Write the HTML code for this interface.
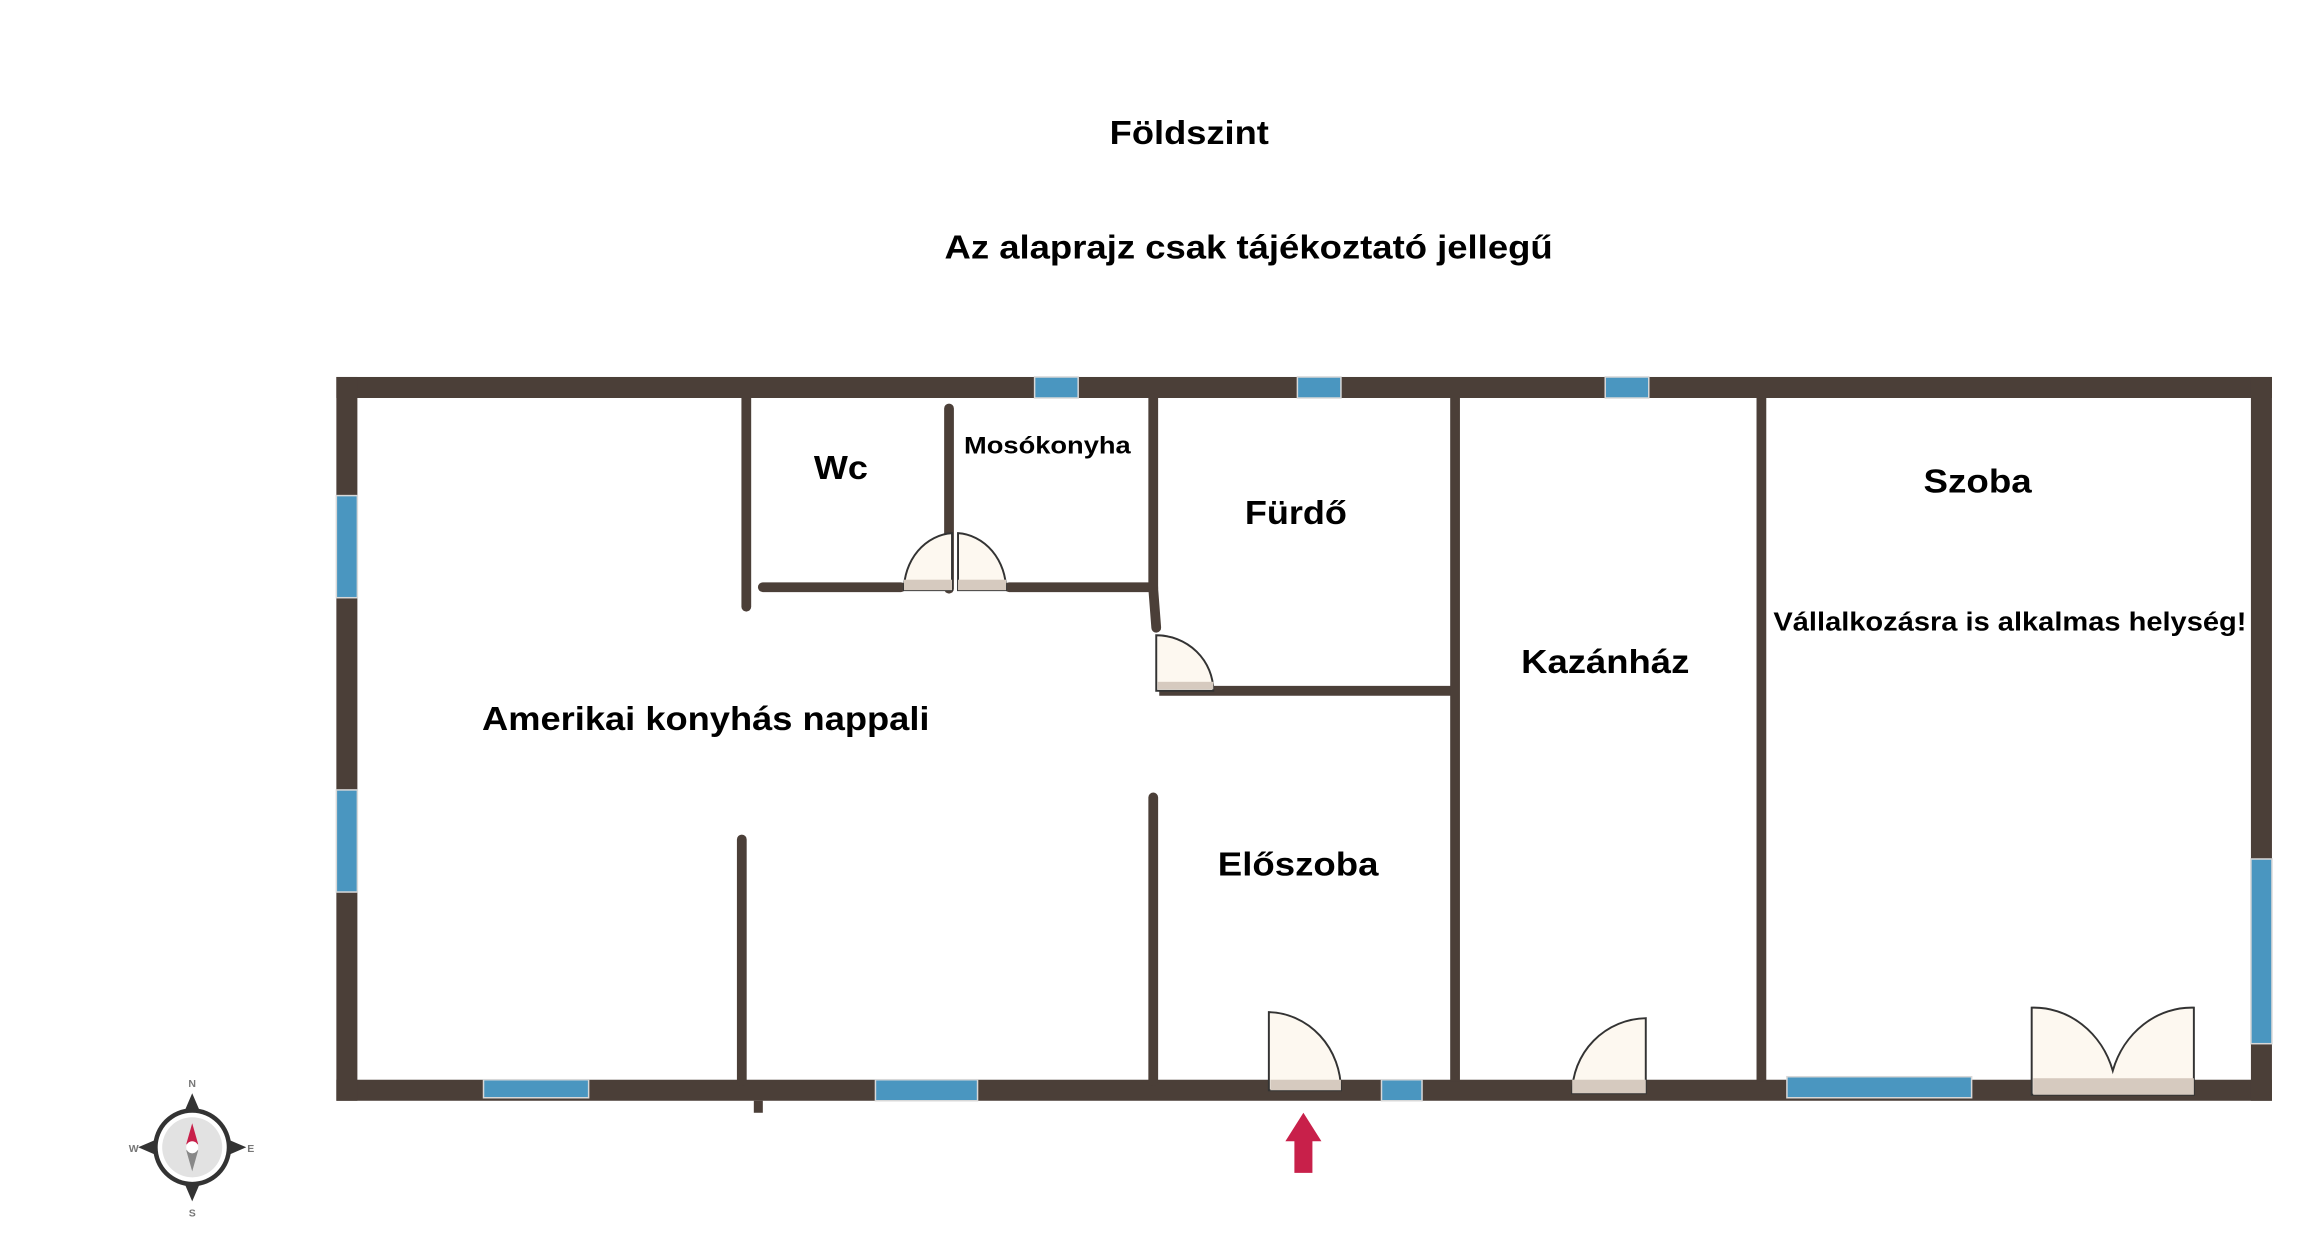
<!DOCTYPE html>
<html><head><meta charset="utf-8"><style>
html,body{margin:0;padding:0;background:#fff;}
svg{display:block;}
text{font-family:"Liberation Sans",sans-serif;font-weight:bold;fill:#000;}
</style></head><body>
<svg width="2320" height="1260" viewBox="0 0 1545 839" xmlns="http://www.w3.org/2000/svg">
<rect width="1545" height="839" fill="#fff"/>
<text x="739" y="96" font-size="22" textLength="106" lengthAdjust="spacingAndGlyphs">Földszint</text>
<text x="629" y="172" font-size="22" textLength="405" lengthAdjust="spacingAndGlyphs">Az alaprajz csak tájékoztató jellegű</text>

<!-- outer walls -->
<g fill="#4b3f38">
<rect x="224" y="251" width="1289" height="14"/>
<rect x="224" y="719" width="1289" height="14"/>
<rect x="224" y="251" width="14" height="482"/>
<rect x="1499" y="251" width="14" height="482"/>
<rect x="502" y="733" width="6" height="8"/>
</g>
<!-- interior walls -->
<g stroke="#4b3f38" stroke-width="6.5" stroke-linecap="round" fill="none">
<line x1="497" y1="265" x2="497" y2="404"/>
<line x1="632" y1="272" x2="632" y2="392"/>
<line x1="508" y1="391" x2="600" y2="391"/>
<line x1="672" y1="391" x2="768" y2="391"/>
<line x1="768" y1="265" x2="768" y2="392"/>
<line x1="768" y1="392" x2="770" y2="418"/>
<line x1="772" y1="460" x2="968" y2="460" stroke-linecap="butt"/>
<line x1="969" y1="265" x2="969" y2="720" stroke-linecap="butt"/>
<line x1="1173" y1="265" x2="1173" y2="720" stroke-linecap="butt"/>
<line x1="768" y1="531" x2="768" y2="720"/>
<line x1="494" y1="559" x2="494" y2="720"/>
</g>
<!-- windows -->
<g fill="#4a96c0" stroke="#d8d8d8" stroke-width="1">
<rect x="689" y="251" width="29" height="14"/>
<rect x="864" y="251" width="29" height="14"/>
<rect x="1069" y="251" width="29" height="14"/>
<rect x="224" y="330" width="14" height="68"/>
<rect x="224" y="526" width="14" height="68"/>
<rect x="322" y="719" width="70" height="12"/>
<rect x="583" y="719" width="68" height="14"/>
<rect x="920" y="719" width="27" height="14"/>
<rect x="1190" y="717" width="123" height="14"/>
<rect x="1499" y="572" width="14" height="123"/>
</g>
<!-- doors -->
<g stroke="#333" stroke-width="1.3">
<!-- Mosokonyha double -->
<path d="M602 393 A34 38 0 0 1 634 355 L634 393 Z" fill="#fdf8f0"/>
<path d="M670 393 A34 38 0 0 0 638 355 L638 393 Z" fill="#fdf8f0"/>
<rect x="602" y="386" width="32" height="7" fill="#d6cabf" stroke="none"/>
<rect x="638" y="386" width="32" height="7" fill="#d6cabf" stroke="none"/>
<!-- Furdo -->
<path d="M770 423 A38 37 0 0 1 808 460 L770 460 Z" fill="#fdf8f0"/>
<rect x="771" y="454" width="37" height="5" fill="#d6cabf" stroke="none"/>
<!-- Eloszoba -->
<path d="M845 674 A49 52 0 0 1 893 726 L845 726 Z" fill="#fdf8f0"/>
<rect x="846" y="719" width="47" height="7" fill="#d6cabf" stroke="none"/>
<!-- Kazanhaz -->
<path d="M1096 678 A50 50 0 0 0 1047 728 L1096 728 Z" fill="#fdf8f0"/>
<rect x="1047" y="719" width="49" height="9" fill="#d6cabf" stroke="none"/>
<!-- Szoba double -->
<path d="M1353 729 L1353 671 A55 60 0 0 1 1407 713 A55 60 0 0 1 1461 671 L1461 729 Z" fill="#fdf8f0"/>
<rect x="1354" y="718" width="107" height="11" fill="#d6cabf" stroke="none"/>
</g>
<!-- entrance arrow -->
<path d="M868 741 L880 760 L874 760 L874 781 L862 781 L862 760 L856 760 Z" fill="#c8204a"/>

<!-- labels -->
<text x="542" y="319" font-size="22" textLength="36" lengthAdjust="spacingAndGlyphs">Wc</text>
<text x="642" y="302" font-size="16" textLength="111" lengthAdjust="spacingAndGlyphs">Mosókonyha</text>
<text x="829" y="349" font-size="22" textLength="68" lengthAdjust="spacingAndGlyphs">Fürdő</text>
<text x="1281" y="328" font-size="22" textLength="72" lengthAdjust="spacingAndGlyphs">Szoba</text>
<text x="1181" y="420" font-size="17" textLength="315" lengthAdjust="spacingAndGlyphs">Vállalkozásra is alkalmas helység!</text>
<text x="1013" y="448" font-size="22" textLength="112" lengthAdjust="spacingAndGlyphs">Kazánház</text>
<text x="321" y="486" font-size="22" textLength="298" lengthAdjust="spacingAndGlyphs">Amerikai konyhás nappali</text>
<text x="811" y="583" font-size="22" textLength="107" lengthAdjust="spacingAndGlyphs">Előszoba</text>

<!-- compass -->
<g transform="translate(128,764)">
<path d="M0 -36 L6 -22 L22 -6 L36 0 L22 6 L6 22 L0 36 L-6 22 L-22 6 L-36 0 L-22 -6 L-6 -22 Z" fill="#333"/>
<circle r="26" fill="#333"/>
<circle r="23" fill="#fff"/>
<circle r="20" fill="#e2e2e2"/>
<path d="M0 -16 L4 -2 L-4 -2 Z" fill="#c8204a"/>
<path d="M0 16 L4 2 L-4 2 Z" fill="#888"/>
<circle r="4" fill="#fff"/>
<text x="0" y="-40" font-size="7" text-anchor="middle" style="fill:#777">N</text>
<text x="0" y="46" font-size="7" text-anchor="middle" style="fill:#777">S</text>
<text x="-39" y="3" font-size="7" text-anchor="middle" style="fill:#777">W</text>
<text x="39" y="3" font-size="7" text-anchor="middle" style="fill:#777">E</text>
</g>
</svg>
</body></html>
